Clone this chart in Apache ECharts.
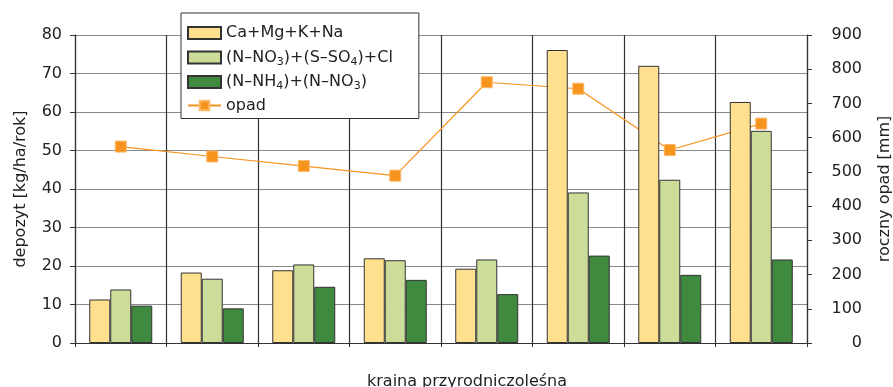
<!DOCTYPE html>
<html><head><meta charset="utf-8">
<script src="https://cdn.jsdelivr.net/npm/echarts@6/dist/echarts.min.js"></script>
<style>html,body{margin:0;padding:0;background:#fff}#c{width:893px;height:387px}</style>
</head><body><div id="c"></div>
<script>
var categories = ['1','2','3','4','5','6','7','8'];
var cations = [11.3, 18.3, 18.9, 22.0, 19.3, 76.1, 72.0, 62.6];
var anions = [13.9, 16.7, 20.4, 21.5, 21.7, 39.1, 42.4, 55.1];
var nitrogen = [9.7, 9.0, 14.6, 16.4, 12.7, 22.7, 17.7, 21.7];
var opad = [574, 545, 517, 489, 762, 743, 564, 641];
var seriesNames = ['Ca+Mg+K+Na', '(N–NO3)+(S–SO4)+Cl', '(N–NH4)+(N–NO3)', 'opad'];

var chart = echarts.init(document.getElementById('c'), null, {renderer: 'canvas'});
var font = 'DejaVu Sans, sans-serif';
var fs = 16;
var barBorder = {borderColor: '#333', borderWidth: 1};
chart.setOption({
  animation: false,
  textStyle: {fontFamily: font},
  grid: {left: 75, right: 86, top: 35, bottom: 44, containLabel: false, outerBoundsMode: 'none'},
  title: {text: 'kraina przyrodniczoleśna', left: 462, top: 369, textAlign: 'center',
    textStyle: {fontFamily: font, fontSize: fs, fontWeight: 'normal', color: '#222'}},
  legend: {
    orient: 'vertical', left: 181, top: 13,
    padding: [10, 26, 3, 6], itemWidth: 33, itemHeight: 12, itemGap: 3.5,
    backgroundColor: '#fff', borderColor: '#333', borderWidth: 1,
    data: [
      {name: seriesNames[0], icon: 'rect'},
      {name: seriesNames[1], icon: 'rect'},
      {name: seriesNames[2], icon: 'rect'},
      {name: seriesNames[3]}
    ],
    formatter: function (n) {
      if (n === seriesNames[1]) return '{m|(N–NO}{s|3}{m|)+(S–SO}{s|4}{m|)+Cl}';
      if (n === seriesNames[2]) return '{m|(N–NH}{s|4}{m|)+(N–NO}{s|3}{m|)}';
      return '{m|' + n + '}';
    },
    textStyle: {fontFamily: font, fontSize: fs, color: '#222', lineHeight: 20,
      rich: {
        m: {fontFamily: font, fontSize: fs, color: '#222', lineHeight: 20, padding: [0, 0, 0, 0]},
        s: {fontFamily: font, fontSize: 11, color: '#222', lineHeight: 10, verticalAlign: 'bottom', padding: [10, 0, 0, 0]}
      }}
  },
  xAxis: {
    type: 'category', data: categories,
    axisLine: {lineStyle: {color: '#333', width: 1.2}},
    axisTick: {show: true, alignWithLabel: false, length: 4, lineStyle: {color: '#333'}},
    axisLabel: {show: false},
    splitLine: {show: true, lineStyle: {color: '#333', width: 1.2}}
  },
  yAxis: [{
    type: 'value', min: 0, max: 80, interval: 10,
    name: 'depozyt [kg/ha/rok]', nameLocation: 'middle', nameGap: 46, nameRotate: 90,
    nameTextStyle: {fontFamily: font, fontSize: fs, color: '#222'},
    axisLine: {show: true, lineStyle: {color: '#333', width: 1.2}},
    axisTick: {show: true, length: 5, lineStyle: {color: '#333'}},
    axisLabel: {fontFamily: font, fontSize: fs, color: '#222', margin: 13},
    splitLine: {show: true, lineStyle: {color: '#8a8a8a', width: 1.2}}
  }, {
    type: 'value', min: 0, max: 900, interval: 100, position: 'right',
    name: 'roczny opad [mm]', nameLocation: 'middle', nameGap: 70, nameRotate: 90,
    nameTextStyle: {fontFamily: font, fontSize: fs, color: '#222'},
    axisLine: {show: true, lineStyle: {color: '#333', width: 1.2}},
    axisTick: {show: true, length: 5, lineStyle: {color: '#333'}},
    axisLabel: {fontFamily: font, fontSize: fs, color: '#222', margin: 55, align: 'right'},
    splitLine: {show: false}
  }],
  series: [
    {name: seriesNames[0], type: 'bar', data: cations, barWidth: 21, barGap: '0%', z: 3,
      itemStyle: Object.assign({color: '#FFE08F'}, barBorder)},
    {name: seriesNames[1], type: 'bar', data: anions, barWidth: 21, barGap: '0%', z: 3,
      itemStyle: Object.assign({color: '#CCDD99'}, barBorder)},
    {name: seriesNames[2], type: 'bar', data: nitrogen, barWidth: 21, barGap: '0%', z: 3,
      itemStyle: Object.assign({color: '#408A40'}, barBorder)},
    {name: seriesNames[3], type: 'line', yAxisIndex: 1, data: opad, z: 1,
      symbol: 'rect', symbolSize: 11,
      lineStyle: {color: '#F7941D', width: 1.2},
      itemStyle: {color: '#F7941D', borderColor: '#FBB96A', borderWidth: 1}}
  ]
});
</script></body></html>
